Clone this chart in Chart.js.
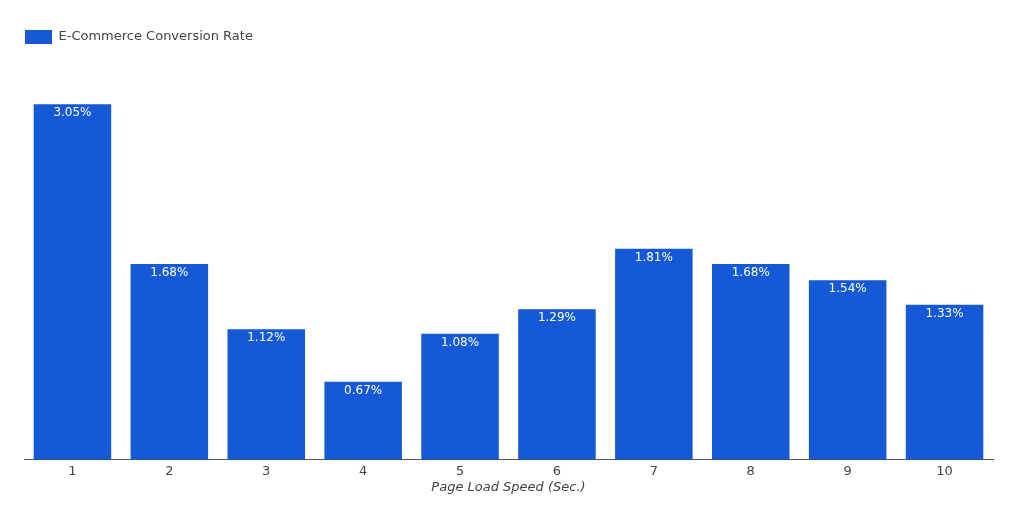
<!DOCTYPE html>
<html>
<head>
<meta charset="utf-8">
<script src="https://cdn.jsdelivr.net/npm/chart.js@4"></script>
<style>
  html, body { margin: 0; padding: 0; background: #fff; }
  #wrap { width: 1024px; height: 505px; position: relative; }
</style>
</head>
<body>
<div id="wrap"><canvas id="chart"></canvas></div>
<script>
// page load speed in seconds, conversion rate in %
const loadSpeed = ['1', '2', '3', '4', '5', '6', '7', '8', '9', '10'];
const conversionRate = [3.05, 1.68, 1.12, 0.67, 1.08, 1.29, 1.81, 1.68, 1.54, 1.33];

const FONT = '"DejaVu Sans", sans-serif';

// white value labels inside the top of each bar
const barLabels = {
  id: 'barLabels',
  afterDatasetsDraw(chart) {
    const ctx = chart.ctx;
    const meta = chart.getDatasetMeta(0);
    ctx.save();
    ctx.fillStyle = '#ffffff';
    ctx.font = '12px ' + FONT;
    ctx.textAlign = 'center';
    ctx.textBaseline = 'middle';
    meta.data.forEach((bar, i) => {
      ctx.fillText(conversionRate[i].toFixed(2) + '%', bar.x, bar.y + 9);
    });
    ctx.restore();
  }
};

new Chart(document.getElementById('chart'), {
  type: 'bar',
  data: {
    labels: loadSpeed,
    datasets: [{
      label: 'E-Commerce Conversion Rate',
      data: conversionRate,
      backgroundColor: '#1559d6',
      borderWidth: 0,
      barPercentage: 0.8,
      categoryPercentage: 1.0
    }]
  },
  options: {
    responsive: true,
    maintainAspectRatio: false,
    animation: false,
    layout: { padding: { left: 24, right: 31, top: 29, bottom: 10 } },
    plugins: {
      legend: {
        position: 'top',
        align: 'start',
        labels: {
          boxWidth: 27,
          boxHeight: 14,
          padding: 1,
          color: '#444',
          font: { family: FONT, size: 13 }
        }
      },
      tooltip: { enabled: false }
    },
    scales: {
      x: {
        grid: { display: false },
        border: { display: true, color: '#555', width: 1 },
        ticks: { color: '#444', font: { family: FONT, size: 13 }, padding: -4 },
        title: {
          display: true,
          text: 'Page Load Speed (Sec.)',
          color: '#444',
          font: { family: FONT, size: 13, style: 'italic' },
          padding: { top: 4, bottom: 0 }
        }
      },
      y: {
        display: false,
        min: 0,
        max: 3.48
      }
    }
  },
  plugins: [barLabels]
});
</script>
</body>
</html>
